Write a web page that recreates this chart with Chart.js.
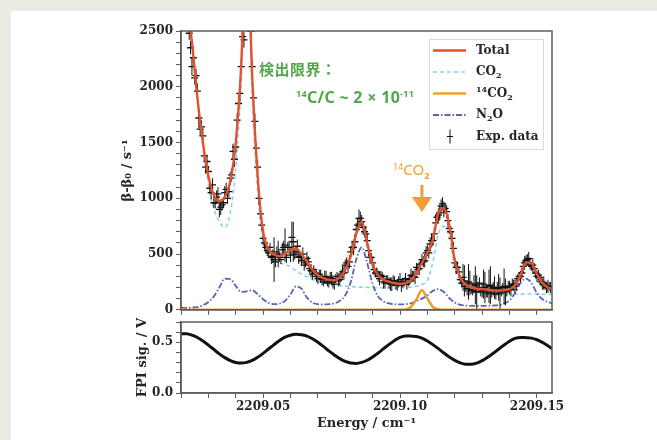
<!DOCTYPE html>
<html>
<head>
<meta charset="utf-8">
<script src="https://cdn.jsdelivr.net/npm/chart.js@4.4.1/dist/chart.umd.min.js"></script>
<style>
  html, body { margin: 0; padding: 0; }
  body { width: 657px; height: 440px; background: #ebebe4; position: relative; overflow: hidden; }
  #sheet { position: absolute; left: 11px; top: 11px; width: 646px; height: 429px; background: #fff; }
  canvas { position: absolute; left: 0; top: 0; }
</style>
</head>
<body>
<div id="sheet"></div>
<canvas id="specChart" width="657" height="320"></canvas>
<canvas id="fpiChart" width="657" height="440"></canvas>
<script>
// ------------------- DATA -------------------

// model curves, energy grid in cm-1
const energy = [
  2209.020, 2209.022, 2209.024, 2209.026, 2209.028, 2209.030, 2209.032, 2209.034, 2209.036, 2209.038,
  2209.040, 2209.042, 2209.044, 2209.046, 2209.048, 2209.050, 2209.052, 2209.054, 2209.056, 2209.058,
  2209.060, 2209.062, 2209.064, 2209.066, 2209.068, 2209.070, 2209.072, 2209.074, 2209.076, 2209.078,
  2209.080, 2209.082, 2209.084, 2209.086, 2209.088, 2209.090, 2209.092, 2209.094, 2209.096, 2209.098,
  2209.100, 2209.102, 2209.104, 2209.106, 2209.108, 2209.110, 2209.112, 2209.114, 2209.116, 2209.118,
  2209.120, 2209.122, 2209.124, 2209.126, 2209.128, 2209.130, 2209.132, 2209.134, 2209.136, 2209.138,
  2209.140, 2209.142, 2209.144, 2209.146, 2209.148, 2209.150, 2209.152, 2209.154, 2209.156
];

const total = [
  3400, 2800, 2400, 1900, 1500, 1200, 1030, 975, 1010, 1150,
  1500, 2200, 3400, 2100, 1200, 700, 540, 495, 480, 505,
  530, 550, 500, 430, 360, 310, 285, 270, 265, 290,
  360, 480, 680, 790, 600, 400, 310, 270, 250, 238,
  232, 240, 265, 330, 420, 510, 630, 870, 910, 760,
  440, 290, 225, 200, 190, 185, 180, 176, 172, 175,
  185, 220, 310, 425, 415, 320, 240, 200, 185
];

const co2 = [
  3380, 2780, 2380, 1875, 1460, 1130, 910, 790, 740, 870,
  1280, 2040, 3235, 1925, 1060, 605, 478, 440, 420, 405,
  385, 350, 320, 295, 272, 255, 242, 232, 224, 217,
  212, 208, 205, 203, 201, 199, 197, 196, 195, 195,
  196, 198, 203, 212, 228, 265, 430, 680, 750, 655,
  375, 245, 190, 165, 155, 150, 146, 143, 141, 140,
  139, 139, 140, 142, 142, 141, 140, 139, 138
];

const co2_14 = [
  0, 0, 0, 0, 0, 0, 0, 0, 0, 0,
  0, 0, 0, 0, 0, 0, 0, 0, 0, 0,
  0, 0, 0, 0, 0, 0, 0, 0, 0, 0,
  0, 0, 0, 0, 0, 0, 0, 0, 0, 0,
  0, 3, 25, 95, 175, 100, 25, 5, 0, 0,
  0, 0, 0, 0, 0, 0, 0, 0, 0, 0,
  0, 0, 0, 0, 0, 0, 0, 0, 0
];

const n2o = [
  18, 18, 20, 25, 40, 70, 120, 200, 280, 275,
  215, 160, 165, 175, 140, 95, 62, 50, 55, 80,
  140, 210, 190, 110, 65, 50, 48, 50, 58, 80,
  130, 250, 450, 560, 420, 230, 120, 75, 58, 50,
  48, 50, 58, 80, 100, 130, 170, 185, 160, 105,
  65, 45, 38, 35, 35, 35, 36, 38, 42, 55,
  85, 150, 240, 280, 240, 150, 95, 70, 55
];

// FPI transmission signal (V) on the same grid
const fpi = [
  0.585, 0.584, 0.571, 0.547, 0.513, 0.472, 0.429, 0.386, 0.349, 0.320,
  0.301, 0.295, 0.302, 0.321, 0.352, 0.391, 0.434, 0.477, 0.517, 0.550,
  0.570, 0.578, 0.575, 0.561, 0.535, 0.500, 0.459, 0.415, 0.375, 0.339,
  0.311, 0.296, 0.292, 0.302, 0.323, 0.355, 0.395, 0.437, 0.479, 0.518,
  0.549, 0.563, 0.561, 0.558, 0.541, 0.513, 0.477, 0.437, 0.395, 0.355,
  0.322, 0.297, 0.284, 0.283, 0.295, 0.319, 0.352, 0.391, 0.432, 0.473,
  0.510, 0.538, 0.548, 0.545, 0.541, 0.525, 0.499, 0.466, 0.429
];

// measured points with error bars (whole-step points first, then half-step points)
const expEnergy = [
  2209.021, 2209.022, 2209.023, 2209.024, 2209.025, 2209.026, 2209.027, 2209.028, 2209.029, 2209.030,
  2209.031, 2209.032, 2209.033, 2209.034, 2209.035, 2209.036, 2209.037, 2209.038, 2209.039, 2209.040,
  2209.041, 2209.042, 2209.043, 2209.044, 2209.045, 2209.046, 2209.047, 2209.048, 2209.049, 2209.050,
  2209.051, 2209.052, 2209.053, 2209.054, 2209.055, 2209.056, 2209.057, 2209.058, 2209.059, 2209.060,
  2209.061, 2209.062, 2209.063, 2209.064, 2209.065, 2209.066, 2209.067, 2209.068, 2209.069, 2209.070,
  2209.071, 2209.072, 2209.073, 2209.074, 2209.075, 2209.076, 2209.077, 2209.078, 2209.079, 2209.080,
  2209.081, 2209.082, 2209.083, 2209.084, 2209.085, 2209.086, 2209.087, 2209.088, 2209.089, 2209.090,
  2209.091, 2209.092, 2209.093, 2209.094, 2209.095, 2209.096, 2209.097, 2209.098, 2209.099, 2209.100,
  2209.101, 2209.102, 2209.103, 2209.104, 2209.105, 2209.106, 2209.107, 2209.108, 2209.109, 2209.110,
  2209.111, 2209.112, 2209.113, 2209.114, 2209.115, 2209.116, 2209.117, 2209.118, 2209.119, 2209.120,
  2209.121, 2209.122, 2209.123, 2209.124, 2209.125, 2209.126, 2209.127, 2209.128, 2209.129, 2209.130,
  2209.131, 2209.132, 2209.133, 2209.134, 2209.135, 2209.136, 2209.137, 2209.138, 2209.139, 2209.140,
  2209.141, 2209.142, 2209.143, 2209.144, 2209.145, 2209.146, 2209.147, 2209.148, 2209.149, 2209.150,
  2209.151, 2209.152, 2209.153, 2209.154, 2209.155,
  2209.0205, 2209.0215, 2209.0225, 2209.0235, 2209.0245, 2209.0255, 2209.0265, 2209.0275, 2209.0285, 2209.0295,
  2209.0305, 2209.0315, 2209.0325, 2209.0335, 2209.0345, 2209.0355, 2209.0365, 2209.0375, 2209.0385, 2209.0395,
  2209.0405, 2209.0415, 2209.0425, 2209.0435, 2209.0445, 2209.0455, 2209.0465, 2209.0475, 2209.0485, 2209.0495,
  2209.0505, 2209.0515, 2209.0525, 2209.0535, 2209.0545, 2209.0555, 2209.0565, 2209.0575, 2209.0585, 2209.0595,
  2209.0605, 2209.0615, 2209.0625, 2209.0635, 2209.0645, 2209.0655, 2209.0665, 2209.0675, 2209.0685, 2209.0695,
  2209.0705, 2209.0715, 2209.0725, 2209.0735, 2209.0745, 2209.0755, 2209.0765, 2209.0775, 2209.0785, 2209.0795,
  2209.0805, 2209.0815, 2209.0825, 2209.0835, 2209.0845, 2209.0855, 2209.0865, 2209.0875, 2209.0885, 2209.0895,
  2209.0905, 2209.0915, 2209.0925, 2209.0935, 2209.0945, 2209.0955, 2209.0965, 2209.0975, 2209.0985, 2209.0995,
  2209.1005, 2209.1015, 2209.1025, 2209.1035, 2209.1045, 2209.1055, 2209.1065, 2209.1075, 2209.1085, 2209.1095,
  2209.1105, 2209.1115, 2209.1125, 2209.1135, 2209.1145, 2209.1155, 2209.1165, 2209.1175, 2209.1185, 2209.1195,
  2209.1205, 2209.1215, 2209.1225, 2209.1235, 2209.1245, 2209.1255, 2209.1265, 2209.1275, 2209.1285, 2209.1295,
  2209.1305, 2209.1315, 2209.1325, 2209.1335, 2209.1345, 2209.1355, 2209.1365, 2209.1375, 2209.1385, 2209.1395,
  2209.1405, 2209.1415, 2209.1425, 2209.1435, 2209.1445, 2209.1455, 2209.1465, 2209.1475, 2209.1485, 2209.1495,
  2209.1505, 2209.1515, 2209.1525, 2209.1535, 2209.1545
];

const expRate = [
  3150, 2750, 2480, 2180, 2080, 1960, 1620, 1560, 1280, 1240,
  1050, 960, 1010, 900, 940, 1050, 1000, 1180, 1420, 1460,
  1850, 2180, 2420, 3300, 2900, 2180, 1690, 1280, 860, 640,
  560, 510, 470, 450, 520, 470, 540, 580, 560, 490,
  610, 520, 470, 440, 400, 460, 370, 320, 330, 280,
  300, 250, 300, 240, 280, 230, 300, 270, 340, 400,
  390, 520, 560, 720, 820, 790, 700, 620, 470, 420,
  330, 300, 310, 250, 270, 240, 230, 260, 220, 270,
  240, 280, 250, 310, 300, 380, 370, 450, 440, 530,
  590, 620, 780, 850, 930, 900, 880, 730, 640, 420,
  380, 270, 290, 210, 250, 180, 230, 160, 240, 170,
  200, 150, 220, 190, 140, 200, 160, 210, 170, 200,
  230, 210, 280, 300, 390, 440, 460, 390, 370, 300,
  290, 230, 220, 210, 200,
  3200, 2950, 2600, 2350, 2260, 2100, 1720, 1640, 1380, 1330,
  1090, 1120, 960, 1040, 920, 960, 1080, 1060, 1210, 1350,
  1700, 1940, 2450, 3000, 3200, 2500, 1900, 1450, 1000, 760,
  600, 530, 560, 480, 430, 500, 450, 560, 470, 560,
  650, 500, 570, 480, 500, 420, 430, 350, 360, 300,
  320, 270, 290, 250, 290, 250, 280, 260, 320, 330,
  420, 430, 560, 610, 760, 820, 740, 680, 530, 470,
  360, 340, 280, 300, 240, 270, 230, 260, 220, 250,
  220, 250, 230, 270, 300, 290, 360, 410, 430, 510,
  510, 620, 680, 830, 870, 950, 910, 800, 700, 550,
  380, 340, 240, 260, 190, 240, 170, 220, 200, 160,
  230, 170, 210, 150, 200, 190, 150, 200, 160, 210,
  180, 220, 230, 300, 330, 420, 450, 400, 400, 330,
  310, 250, 240, 200, 210
];

const expErr = [
  60, 70, 60, 80, 60, 70, 60, 50, 60, 50,
  60, 50, 60, 70, 50, 60, 50, 60, 70, 60,
  80, 60, 70, 60, 80, 60, 70, 60, 50, 60,
  50, 40, 60, 200, 50, 40, 60, 150, 50, 60,
  180, 50, 60, 40, 50, 60, 40, 50, 40, 50,
  60, 40, 50, 40, 60, 50, 40, 50, 60, 50,
  60, 50, 70, 60, 80, 60, 50, 60, 40, 50,
  40, 50, 40, 60, 40, 50, 60, 40, 50, 60,
  40, 50, 40, 60, 50, 40, 60, 50, 60, 50,
  60, 50, 70, 60, 60, 70, 60, 50, 60, 50,
  50, 40, 120, 50, 160, 40, 80, 150, 50, 60,
  140, 40, 170, 60, 50, 120, 40, 160, 50, 60,
  50, 60, 40, 50, 60, 50, 60, 40, 50, 50,
  40, 50, 40, 60, 50,
  70, 60, 70, 60, 80, 60, 70, 60, 50, 60,
  50, 60, 50, 60, 70, 50, 60, 50, 60, 70,
  60, 70, 60, 80, 60, 70, 60, 50, 60, 50,
  60, 50, 40, 60, 50, 120, 40, 60, 50, 60,
  140, 50, 60, 40, 60, 40, 50, 60, 40, 50,
  40, 50, 60, 40, 50, 60, 40, 50, 40, 60,
  50, 60, 50, 70, 60, 60, 50, 70, 50, 40,
  50, 40, 60, 40, 50, 40, 60, 50, 40, 50,
  60, 40, 50, 40, 50, 60, 50, 40, 50, 60,
  50, 60, 60, 50, 70, 60, 50, 60, 50, 60,
  60, 50, 40, 140, 60, 110, 40, 170, 50, 40,
  130, 60, 150, 40, 100, 60, 140, 40, 120, 50,
  60, 50, 60, 40, 50, 60, 50, 40, 60, 50,
  50, 40, 60, 50, 40
];

const X_MIN = 2209.02;
const X_MAX = 2209.1555;
const PEAK_14CO2 = 2209.108;

// ------------------- STYLE -------------------

const RED = '#e4512d';
const CYAN = '#8fd2e6';
const ORANGE = '#f39c32';
const BLUE = '#5466b8';
const GREEN = '#52a64b';
const AXIS = '#5c5c5c';
const INK = '#262626';
const TICK_FONT = { family: 'DejaVu Serif', size: 12, weight: 'bold' };
const TITLE_FONT = { family: 'DejaVu Serif', size: 13, weight: 'bold' };

const pts = ys => energy.map((e, i) => ({ x: e, y: ys[i] }));
const isMultiple = (v, step) => Math.abs(v / step - Math.round(v / step)) < 1e-4;

// ------------------- PLUGINS -------------------

// vertical error bars for datasets carrying an `errors` array
const errorBars = {
  id: 'errorBars',
  afterDatasetDraw(chart, args) {
    const ds = chart.data.datasets[args.index];
    if (!ds.errors) return;
    const { ctx, chartArea: a, scales: { x, y } } = chart;
    ctx.save();
    ctx.beginPath();
    ctx.rect(a.left, a.top, a.right - a.left, a.bottom - a.top);
    ctx.clip();
    ctx.strokeStyle = ds.borderColor;
    ctx.lineWidth = 1;
    ds.data.forEach((p, i) => {
      const px = x.getPixelForValue(p.x);
      ctx.beginPath();
      ctx.moveTo(px, y.getPixelForValue(p.y - ds.errors[i]));
      ctx.lineTo(px, y.getPixelForValue(p.y + ds.errors[i]));
      ctx.stroke();
    });
    ctx.restore();
  }
};

// box round the plot area
const frame = {
  id: 'frame',
  afterDraw(chart) {
    const { ctx, chartArea: a } = chart;
    ctx.save();
    ctx.strokeStyle = AXIS;
    ctx.lineWidth = 1.5;
    ctx.strokeRect(a.left, a.top, a.right - a.left, a.bottom - a.top);
    ctx.restore();
  }
};

function drawRich(ctx, x, y, parts) {
  parts.forEach(p => {
    ctx.font = p.font;
    ctx.fillText(p.text, x, y + (p.dy || 0));
    x += ctx.measureText(p.text).width + (p.gap || 0);
  });
}

const SERIF_B = 'bold 12px "DejaVu Serif"';
const SERIF_S = 'bold 8px "DejaVu Serif"';

function drawLegend(chart) {
  const ctx = chart.ctx;
  ctx.fillStyle = '#ffffff';
  ctx.fillRect(429.5, 39.5, 114, 110);
  ctx.strokeStyle = '#dadada';
  ctx.lineWidth = 1;
  ctx.strokeRect(429.5, 39.5, 114, 110);

  chart.data.datasets.filter(ds => ds.legendParts).sort((a, b) => a.legendRow - b.legendRow).forEach(ds => {
    const yy = 50.5 + 21.5 * ds.legendRow;
    ctx.strokeStyle = ds.borderColor;
    if (ds.errors) {
      ctx.lineWidth = 1;
      ctx.beginPath();
      ctx.moveTo(450, yy - 7); ctx.lineTo(450, yy + 7);
      ctx.moveTo(447, yy); ctx.lineTo(453, yy);
      ctx.stroke();
    } else {
      ctx.lineWidth = ds.borderWidth;
      ctx.setLineDash(ds.borderDash || []);
      ctx.beginPath();
      ctx.moveTo(433, yy); ctx.lineTo(466, yy);
      ctx.stroke();
      ctx.setLineDash([]);
    }
    ctx.fillStyle = INK;
    ctx.textBaseline = 'middle';
    drawRich(ctx, 476, yy, ds.legendParts);
  });
}

const overlay = {
  id: 'overlay',
  afterDraw(chart) {
    const { ctx, scales: { x } } = chart;
    ctx.save();
    drawLegend(chart);

    // detection limit note
    ctx.fillStyle = GREEN;
    ctx.textBaseline = 'middle';
    ctx.font = 'bold 15px "Noto Sans CJK JP"';
    ctx.letterSpacing = '0.5px';
    ctx.fillText('検出限界：', 259, 69);
    ctx.letterSpacing = '0.3px';
    drawRich(ctx, 296, 98, [
      { text: '14', font: 'bold 9px "Noto Sans"', dy: -4 },
      { text: 'C/C ~ 2 × 10', font: 'bold 16px "Noto Sans"' },
      { text: '-11', font: 'bold 9px "Noto Sans"', dy: -4 }
    ]);
    ctx.letterSpacing = '0px';

    // arrow pointing at the 14CO2 line
    const ax = x.getPixelForValue(PEAK_14CO2);
    ctx.fillStyle = ORANGE;
    drawRich(ctx, ax - 29, 171, [
      { text: '14', font: '9px "Noto Sans"', dy: -4 },
      { text: 'CO', font: '15px "Noto Sans"' },
      { text: '2', font: 'bold 9px "Noto Sans"', dy: 5 }
    ]);
    ctx.fillRect(ax - 1.5, 185, 3, 14);
    ctx.beginPath();
    ctx.moveTo(ax - 10, 197);
    ctx.lineTo(ax + 10, 197);
    ctx.lineTo(ax, 212);
    ctx.closePath();
    ctx.fill();
    ctx.restore();
  }
};

// ------------------- AXES -------------------

function xAxis(showLabels, height) {
  return {
    type: 'linear',
    min: X_MIN,
    max: X_MAX,
    afterFit: s => { s.height = height; },
    ticks: {
      display: showLabels,
      stepSize: 0.01,
      includeBounds: false,
      maxRotation: 0,
      autoSkip: false,
      padding: 2,
      font: TICK_FONT,
      color: INK,
      callback: v => isMultiple(v, 0.05) ? v.toFixed(2) : ''
    },
    grid: { drawOnChartArea: false, tickLength: 5, color: AXIS, lineWidth: 1 },
    border: { color: AXIS, width: 1.5 }
  };
}

function yAxis(min, max, step, labelEvery, digits, title, titlePad) {
  return {
    min: min,
    max: max,
    afterFit: s => { s.width = 81; },
    ticks: {
      stepSize: step,
      autoSkip: false,
      padding: 3,
      font: TICK_FONT,
      color: INK,
      callback: v => isMultiple(v, labelEvery) ? v.toFixed(digits) : ''
    },
    grid: { drawOnChartArea: false, tickLength: 5, color: AXIS, lineWidth: 1 },
    border: { color: AXIS, width: 1.5 },
    title: { display: true, text: title, font: TITLE_FONT, color: INK, padding: { top: titlePad, bottom: 0 } }
  };
}

// ------------------- CHARTS -------------------

const curve = (data, color, width, dash) => ({
  data: data,
  borderColor: color,
  borderWidth: width,
  borderDash: dash,
  pointRadius: 0,
  fill: false,
  cubicInterpolationMode: 'monotone'
});

const specChart = new Chart(document.getElementById('specChart'), {
  type: 'line',
  data: {
    datasets: [
      Object.assign(curve(pts(total), RED, 2.4, []), {
        legendRow: 0, legendParts: [{ text: 'Total', font: SERIF_B }]
      }),
      {
        data: expEnergy.map((e, i) => ({ x: e, y: expRate[i] })),
        errors: expErr,
        showLine: false,
        borderColor: '#111111',
        backgroundColor: '#111111',
        borderWidth: 1.3,
        pointStyle: 'line',
        pointRadius: 3.5,
        legendRow: 4,
        legendParts: [{ text: 'Exp. data', font: SERIF_B }]
      },
      Object.assign(curve(pts(co2_14), ORANGE, 2.6, []), {
        legendRow: 2,
        legendParts: [
          { text: '14', font: SERIF_S, dy: -4 },
          { text: 'CO', font: SERIF_B },
          { text: '2', font: SERIF_S, dy: 4 }
        ]
      }),
      Object.assign(curve(pts(n2o), BLUE, 1.8, [6, 2, 1.5, 2]), {
        legendRow: 3,
        legendParts: [
          { text: 'N', font: SERIF_B },
          { text: '2', font: SERIF_S, dy: 4 },
          { text: 'O', font: SERIF_B }
        ]
      }),
      Object.assign(curve(pts(co2), CYAN, 1.6, [4, 3]), {
        legendRow: 1,
        legendParts: [
          { text: 'CO', font: SERIF_B },
          { text: '2', font: SERIF_S, dy: 4 }
        ]
      })
    ]
  },
  options: {
    responsive: false,
    animation: false,
    layout: { padding: { left: 100, right: 105, top: 31, bottom: 0 } },
    plugins: { legend: { display: false }, tooltip: { enabled: false } },
    scales: {
      x: xAxis(false, 6),
      y: yAxis(0, 2500, 100, 500, 0, 'β-β₀ / s⁻¹', 20)
    }
  },
  plugins: [errorBars, frame, overlay]
});

const fpiChart = new Chart(document.getElementById('fpiChart'), {
  type: 'line',
  data: {
    datasets: [curve(pts(fpi), '#111111', 3, [])]
  },
  options: {
    responsive: false,
    animation: false,
    layout: { padding: { left: 100, right: 105, top: 322, bottom: 0 } },
    plugins: { legend: { display: false }, tooltip: { enabled: false } },
    scales: {
      x: Object.assign(xAxis(true, 47), {
        title: { display: true, text: 'Energy / cm⁻¹', font: TITLE_FONT, color: INK, padding: { top: 0, bottom: 9 } }
      }),
      y: yAxis(0, 0.7, 0.1, 0.5, 1, 'FPI sig. / V', 35)
    }
  },
  plugins: [frame]
});
</script>
</body>
</html>
